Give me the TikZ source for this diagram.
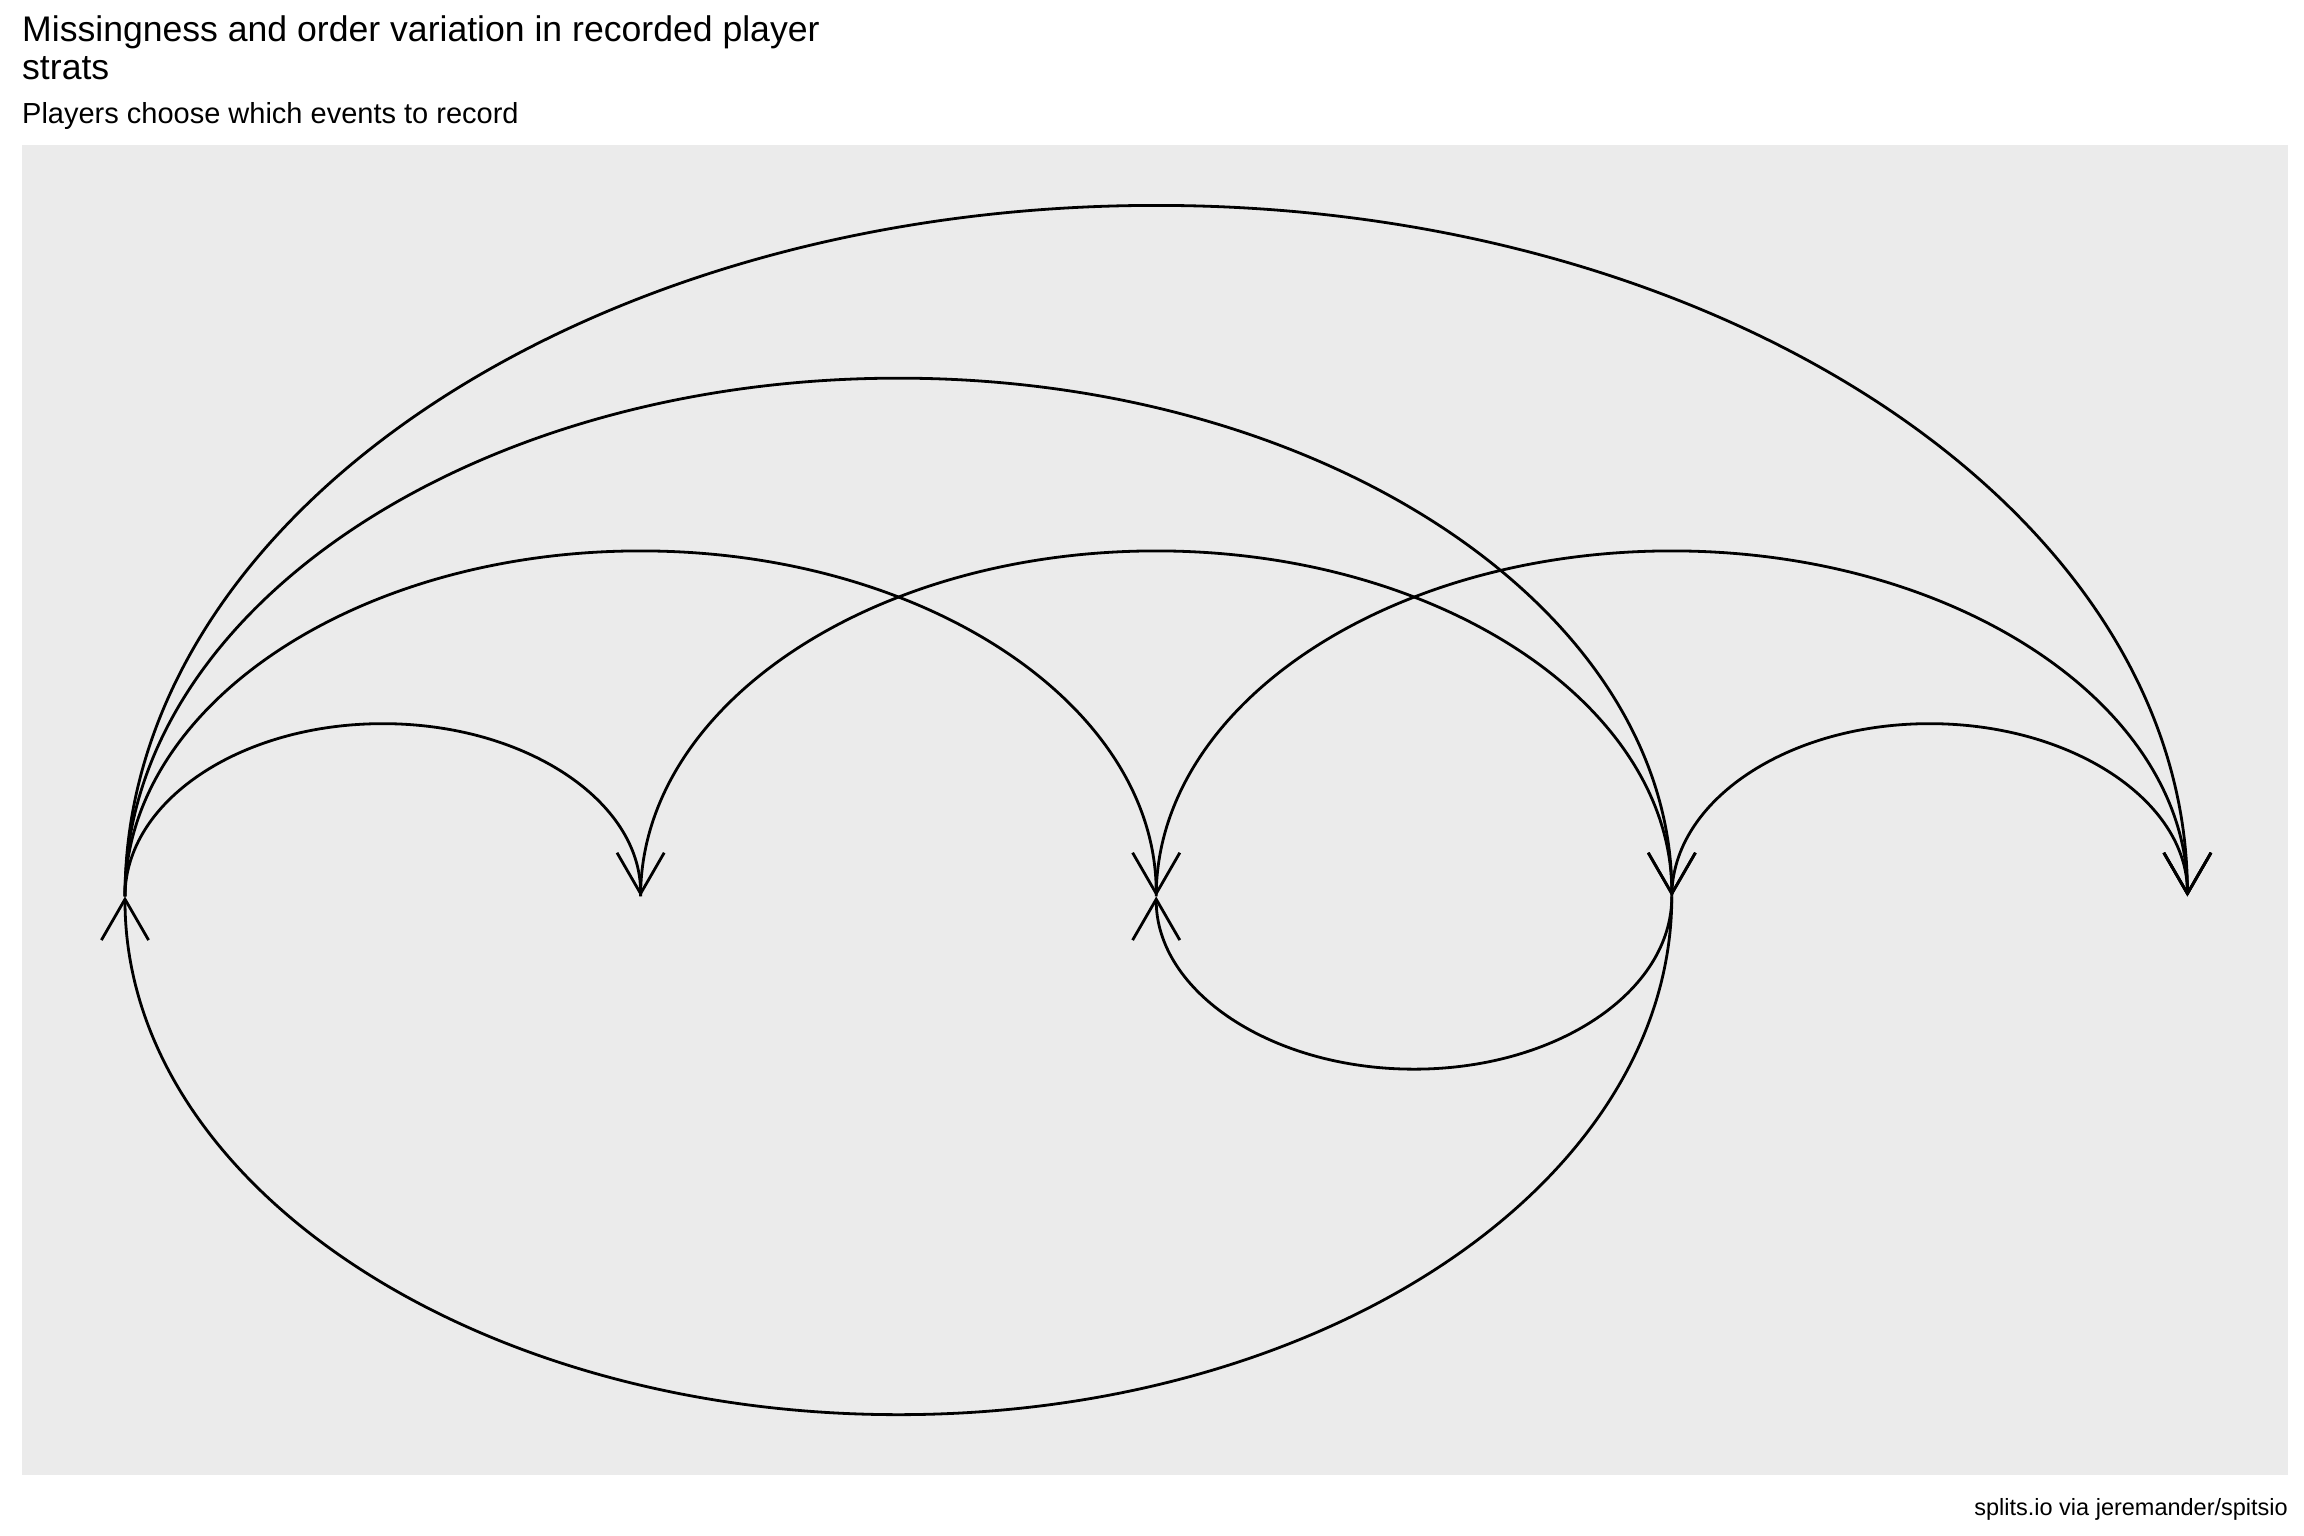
\documentclass[tikz,border=0pt]{standalone}
\usepackage{fontspec}
\setmainfont{Liberation Sans}
\usetikzlibrary{arrows.meta}
\definecolor{panelgrey}{HTML}{EBEBEB}
\begin{document}
\begin{tikzpicture}[x=1pt,y=-1pt,
  label text/.style={inner sep=0pt, text=black},
  edge/.style={line width=2.8pt, draw=black,
    -{Straight Barb[length=40.9pt,width=47.2pt,line width=2.8pt]}},
  % half-ellipse spanning k gaps between neighbouring events
  span/.style={x radius=257.8*#1, y radius=172.75*#1}]
\useasboundingbox (0,0) rectangle (2304,1536);
\fill[white] (0,0) rectangle (2304,1536);
\fill[panelgrey] (22,145) rectangle (2288,1475);

% titles and caption (the title node is anchored on its last line)
\node[label text, anchor=base west, align=left,
      font=\fontsize{35.6}{38.2}\selectfont] (title) at (22,79.3)
  {Missingness and order variation in recorded player\\strats};
\node[label text, anchor=base west, font=\fontsize{29}{34}\selectfont]
  (subtitle) at (22,123.4) {Players choose which events to record};
\node[label text, anchor=base east, font=\fontsize{23.5}{28}\selectfont]
  (caption) at (2288,1515) {splits.io via jeremander/spitsio};

% event positions along the baseline
\coordinate (e1) at (125.0,896.4);
\coordinate (e2) at (640.6,896.4);
\coordinate (e3) at (1156.2,896.4);
\coordinate (e4) at (1671.8,896.4);
\coordinate (e5) at (2187.4,896.4);

% forward transitions, drawn above the baseline
\draw[edge] (e1) arc[start angle=180, end angle=360, span=1];
\draw[edge] (e1) arc[start angle=180, end angle=360, span=2];
\draw[edge] (e1) arc[start angle=180, end angle=360, span=3];
\draw[edge] (e1) arc[start angle=180, end angle=360, span=4];
\draw[edge] (e2) arc[start angle=180, end angle=360, span=2];
\draw[edge] (e3) arc[start angle=180, end angle=360, span=2];
\draw[edge] (e4) arc[start angle=180, end angle=360, span=1];

% backward transitions, drawn below the baseline
\draw[edge] (e4) arc[start angle=0, end angle=180, span=1];
\draw[edge] (e4) arc[start angle=0, end angle=180, span=3];
\end{tikzpicture}
\end{document}
